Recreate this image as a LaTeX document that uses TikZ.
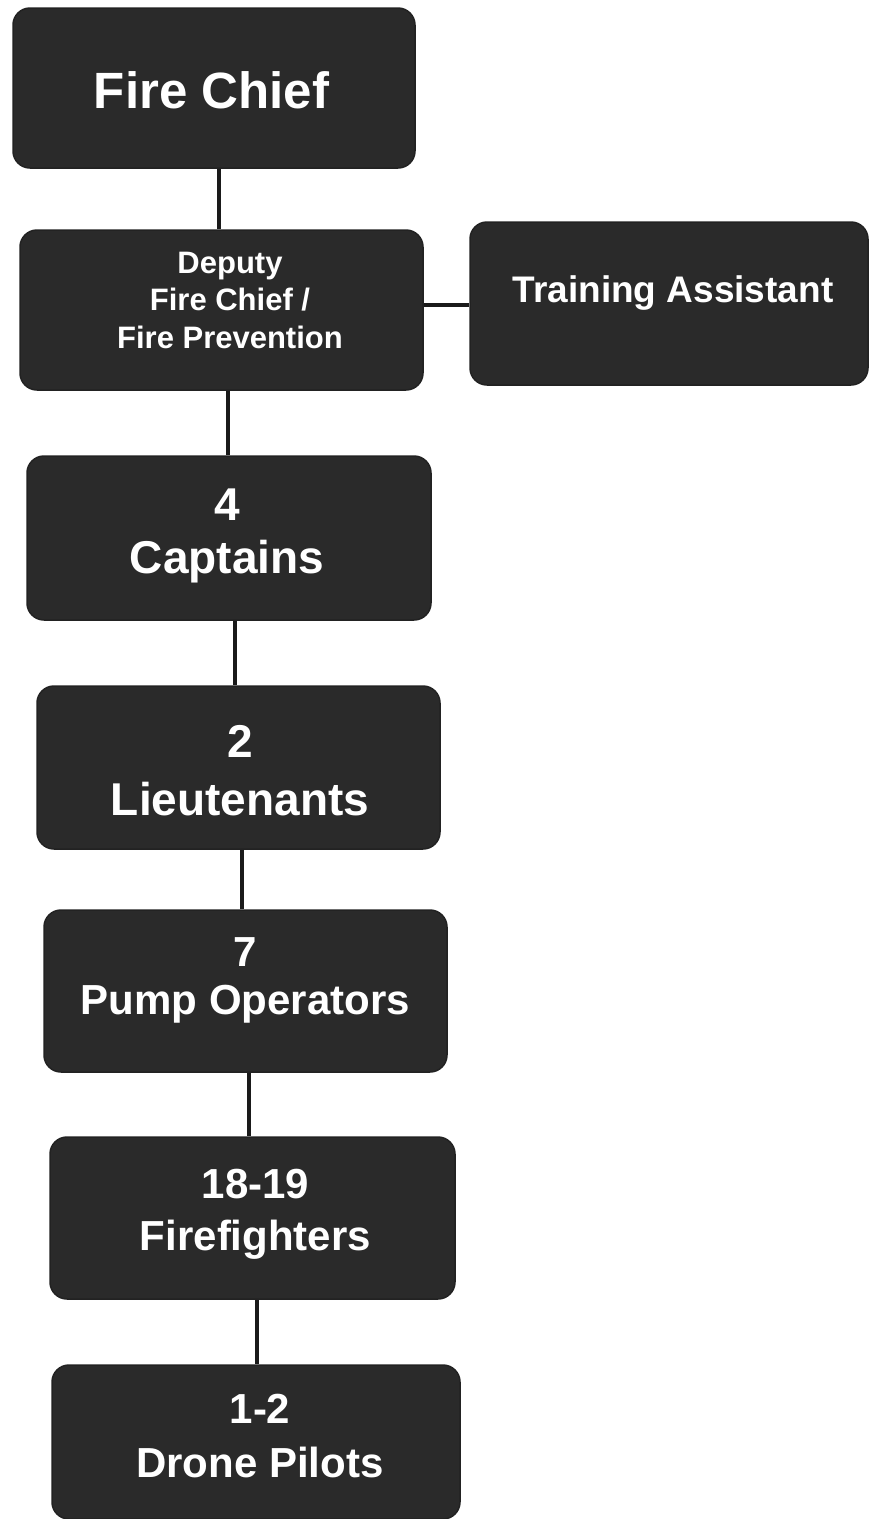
\documentclass[tikz,border=0pt]{standalone}
\usepackage{fontspec}
\setmainfont{Liberation Sans}
\usetikzlibrary{calc,backgrounds}
\definecolor{boxfill}{HTML}{2A2A2A}
\definecolor{linecol}{HTML}{1A1A1A}
\tikzset{
  orgbox/.style={draw=boxfill!80!black, line width=1.5pt, fill=boxfill, rounded corners=17pt, inner sep=0pt},
  lbl/.style={text=white, font=\bfseries, align=center, inner sep=0pt},
  conn/.style={draw=linecol, line width=4pt}
}
\begin{document}
\begin{tikzpicture}[x=1pt,y=-1pt]
\useasboundingbox (0,0) rectangle (869,1519);
% boxes
\node[orgbox, minimum width=402pt, minimum height=160pt] (fc) at (214,88) {};
\node[orgbox, minimum width=403pt, minimum height=160pt] (dep) at (221.5,310) {};
\node[orgbox, minimum width=398pt, minimum height=163pt] (ta) at (669,303.5) {};
\node[orgbox, minimum width=404pt, minimum height=164pt] (cap) at (229,538) {};
\node[orgbox, minimum width=403pt, minimum height=163pt] (lt) at (238.5,767.5) {};
\node[orgbox, minimum width=403pt, minimum height=162pt] (po) at (245.5,991) {};
\node[orgbox, minimum width=405pt, minimum height=162pt] (ff) at (252.5,1218) {};
\node[orgbox, minimum width=408pt, minimum height=154pt] (dp) at (256,1442) {};
% labels
\node[lbl, font=\bfseries\fontsize{51}{60}\selectfont] (fct) at (211.5,90) {Fire Chief};
\node[lbl, font=\bfseries\fontsize{31}{37.5}\selectfont] (dept) at (230,300) {Deputy\\Fire Chief /\\Fire Prevention};
\node[lbl, font=\bfseries\fontsize{37}{44}\selectfont] (tat) at (673,293) {Training Assistant};
\node[lbl, font=\bfseries\fontsize{46}{53}\selectfont] (capt) at (227,536) {4\\Captains};
\node[lbl, font=\bfseries\fontsize{46}{58}\selectfont] (ltt) at (240,771) {2\\Lieutenants};
\node[lbl, font=\bfseries\fontsize{42}{48}\selectfont] (pot) at (245.5,980) {7\\Pump Operators};
\node[lbl, font=\bfseries\fontsize{42}{52}\selectfont] (fft) at (255.5,1214) {18-19\\Firefighters};
\node[lbl, font=\bfseries\fontsize{42}{54}\selectfont] (dpt) at (260,1436) {1-2\\Drone Pilots};
% connectors
\begin{scope}[on background layer]
\coordinate (x1) at (219,0);
\coordinate (x2) at (228,0);
\coordinate (x3) at (235,0);
\coordinate (x4) at (242,0);
\coordinate (x5) at (249,0);
\coordinate (x6) at (257,0);
\draw[conn] (fc.south -| x1) -- (dep.north -| x1);
\draw[conn] (dep.south -| x2) -- (cap.north -| x2);
\draw[conn] (cap.south -| x3) -- (lt.north -| x3);
\draw[conn] (lt.south -| x4) -- (po.north -| x4);
\draw[conn] (po.south -| x5) -- (ff.north -| x5);
\draw[conn] (ff.south -| x6) -- (dp.north -| x6);
\coordinate (y1) at (0,305);
\draw[conn] (dep.east |- y1) -- (ta.west |- y1);
\end{scope}
\end{tikzpicture}
\end{document}
